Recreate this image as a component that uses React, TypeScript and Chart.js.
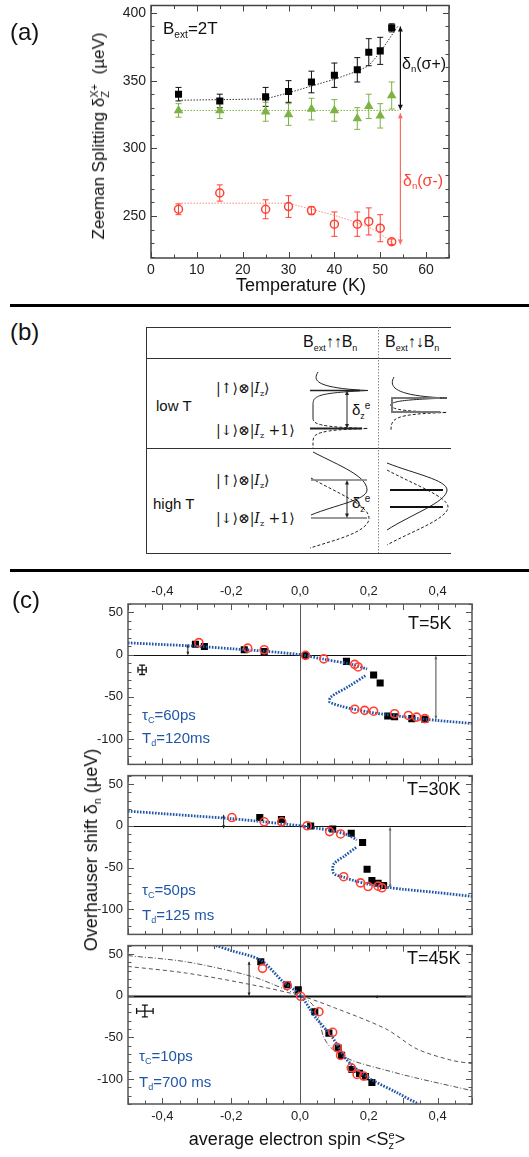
import React, { useEffect, useRef } from 'react';
import { Chart, registerables } from 'chart.js';
Chart.register(...registerables);

const FONT = '"Liberation Sans", Arial, Helvetica, sans-serif';

// ---------- Panel (a): Zeeman splitting vs temperature ----------
const temperatureK = [6, 15, 25, 30, 35, 40, 45, 47.5, 50, 52.5];
const splitSigmaPlus = [340, 335, 338, 342, 349, 354, 358, 371, 372, 389];
const errSigmaPlus = [5, 5, 7, 8, 8, 9, 9, 10, 10, 3];
const splitZero = [328, 328, 327, 325, 329, 328, 322, 331, 324, 339];
const errZero = [5, 6, 7, 8, 8, 8, 8, 9, 9, 10];
const splitSigmaMinus = [255, 267, 255, 257, 254, 244, 244, 246, 241, 231];
const errSigmaMinus = [4, 6, 7, 8, 3, 9, 9, 10, 10, 2];
const fitPlusT = [6, 25, 30, 35, 40, 45, 47.5, 50, 54];
const fitPlusY = [335.5, 336.5, 341, 346, 351, 357, 361, 371, 391];
const fitZeroT = [6, 54];
const fitZeroY = [328, 328];
const fitMinusT = [6, 30, 35, 40, 45, 48, 50, 53];
const fitMinusY = [259.5, 259.5, 255, 250.5, 245, 241, 237, 229];
const tempTicks = [0, 10, 20, 30, 40, 50, 60];
const zeemanTicks = [250, 300, 350, 400];

// ---------- Panel (c): Overhauser shift vs electron spin ----------
const spinTicks = [-0.4, -0.2, 0, 0.2, 0.4];
const shiftTicks = [-100, -50, 0, 50];

// T = 5K
const sq5x = [-0.304, -0.278, -0.162, -0.104, 0.016, 0.135, 0.214, 0.233, 0.255, 0.275, 0.325, 0.363];
const sq5y = [12.3, 9.6, 5.8, 3.8, -1, -8, -24, -33.5, -72.7, -73.5, -75.8, -76.5];
const ci5x = [-0.294, -0.152, -0.104, 0.016, 0.069, 0.159, 0.169, 0.159, 0.188, 0.214, 0.275, 0.315, 0.339, 0.363];
const ci5y = [14.2, 7.7, 5.8, -0.8, -5, -11.5, -14.6, -64.6, -66, -67, -70, -72, -74, -75.8];
const model5UpperX = [-0.5, -0.4, -0.3, -0.2, -0.1, 0, 0.07, 0.15, 0.195];
const model5UpperY = [14, 12, 10, 7, 4, 0, -5.5, -11.5, -17];
const model5LowerX = [0.19, 0.14, 0.09, 0.086, 0.12, 0.15, 0.2, 0.25, 0.3, 0.35, 0.4, 0.5];
const model5LowerY = [-25, -38, -50, -56, -61, -64, -68, -71, -73.5, -76, -78, -81.5];

// T = 30K
const sq30x = [-0.117, -0.054, 0.031, 0.095, 0.149, 0.182, 0.195, 0.209, 0.227, 0.243];
const sq30y = [9.8, 7.4, -0.4, -3.9, -9, -20, -52, -65.6, -68.8, -71.5];
const ci30x = [-0.198, -0.104, -0.053, 0.021, 0.086, 0.118, 0.127, 0.176, 0.198, 0.227, 0.238];
const ci30y = [9.8, 4.7, 4.7, 0, -7, -9.8, -61, -68.4, -72.7, -72.3, -74.2];
const model30UpperX = [-0.5, -0.4, -0.3, -0.2, -0.1, 0, 0.05, 0.1, 0.14, 0.165];
const model30UpperY = [17.5, 14.5, 11.5, 8.5, 4.5, 0, -3, -6.5, -11, -17];
const model30LowerX = [0.163, 0.13, 0.098, 0.098, 0.13, 0.16, 0.2, 0.26, 0.3, 0.4, 0.5];
const model30LowerY = [-26, -36, -46, -57, -62, -66, -70, -74, -76, -80, -84.5];

// T = 45K
const sq45x = [-0.114, -0.037, -0.005, 0.043, 0.084, 0.111, 0.121, 0.151, 0.173, 0.19, 0.209];
const sq45y = [40.6, 13, 7, -19.3, -45, -63, -71.7, -88.6, -93.3, -97.2, -104.3];
const ci45x = [-0.109, -0.037, 0.002, 0.055, 0.095, 0.108, 0.118, 0.149, 0.166, 0.185];
const ci45y = [32.7, 12.2, -0.8, -19.3, -44, -62.2, -71.7, -86.6, -94.5, -96.5];
const model45X = [-0.244, -0.2, -0.114, -0.05, 0, 0.045, 0.094, 0.132, 0.17, 0.209, 0.28, 0.344];
const model45Y = [60, 54, 42.5, 17, 1, -26, -50, -75, -90, -101, -116, -130];
const dashed45X = [-0.5, -0.33, -0.14, 0, 0.1, 0.25, 0.34, 0.44, 0.5];
const dashed45Y = [35, 27, 13, 0, -14.5, -40, -64, -77.5, -81.5];
const dashDot45X = [-0.5, -0.33, -0.14, -0.04, 0, 0.036, 0.055, 0.069, 0.094, 0.15, 0.25, 0.34, 0.5];
const dashDot45Y = [48, 40.5, 23, 7, 0, -10.5, -28, -50, -64, -77.5, -89.5, -99, -114];

const BLUE = '#1f56a8';
const RED = '#ff4133';
const GREEN = '#7cb342';

type Arrow = { x: number; y1: number; y2: number; color: string; width?: number; head?: number };
type ErrSet = { xs: number[]; ys: number[]; err: number[]; color: string };
type Cross = { x: number; y: number; dx: number; dy: number };
type DecorCfg = {
  frameColor: string;
  xMinor: number; xMajor: number; yMinor: number; yMajor: number;
  zeroX?: { color: string; width: number };
  zeroY?: { color: string; width: number };
  arrows?: Arrow[];
  errors?: ErrSet[];
  crosses?: Cross[];
};

function makeDecor(cfg: DecorCfg) {
  return {
    id: 'decor',
    beforeDatasetsDraw(chart: any) {
      const { ctx, chartArea: ca } = chart;
      const xs = chart.scales.x;
      const ys = chart.scales.y;
      ctx.save();
      ctx.beginPath();
      ctx.rect(ca.left, ca.top, ca.right - ca.left, ca.bottom - ca.top);
      ctx.clip();
      if (cfg.zeroX) {
        const px = Math.round(xs.getPixelForValue(0)) + 0.5;
        ctx.strokeStyle = cfg.zeroX.color;
        ctx.lineWidth = cfg.zeroX.width;
        ctx.beginPath();
        ctx.moveTo(px, ca.top);
        ctx.lineTo(px, ca.bottom);
        ctx.stroke();
      }
      if (cfg.zeroY) {
        const py = Math.round(ys.getPixelForValue(0)) + 0.5;
        ctx.strokeStyle = cfg.zeroY.color;
        ctx.lineWidth = cfg.zeroY.width;
        ctx.beginPath();
        ctx.moveTo(ca.left, py);
        ctx.lineTo(ca.right, py);
        ctx.stroke();
      }
      (cfg.errors || []).forEach((e) => {
        ctx.strokeStyle = e.color;
        ctx.lineWidth = 1;
        e.xs.forEach((xv, i) => {
          const px = xs.getPixelForValue(xv);
          const pt = ys.getPixelForValue(e.ys[i] + e.err[i]);
          const pb = ys.getPixelForValue(e.ys[i] - e.err[i]);
          ctx.beginPath();
          ctx.moveTo(px, pt);
          ctx.lineTo(px, pb);
          ctx.moveTo(px - 3, pt);
          ctx.lineTo(px + 3, pt);
          ctx.moveTo(px - 3, pb);
          ctx.lineTo(px + 3, pb);
          ctx.stroke();
        });
      });
      (cfg.crosses || []).forEach((c) => {
        const px = xs.getPixelForValue(c.x);
        const py = ys.getPixelForValue(c.y);
        const l = xs.getPixelForValue(c.x - c.dx);
        const r = xs.getPixelForValue(c.x + c.dx);
        const t = ys.getPixelForValue(c.y + c.dy);
        const b = ys.getPixelForValue(c.y - c.dy);
        ctx.strokeStyle = '#111';
        ctx.lineWidth = 1.3;
        ctx.beginPath();
        ctx.moveTo(l, py); ctx.lineTo(r, py);
        ctx.moveTo(px, t); ctx.lineTo(px, b);
        ctx.moveTo(l, py - 3); ctx.lineTo(l, py + 3);
        ctx.moveTo(r, py - 3); ctx.lineTo(r, py + 3);
        ctx.moveTo(px - 3, t); ctx.lineTo(px + 3, t);
        ctx.moveTo(px - 3, b); ctx.lineTo(px + 3, b);
        ctx.stroke();
      });
      (cfg.arrows || []).forEach((a) => {
        const px = xs.getPixelForValue(a.x);
        const p1 = ys.getPixelForValue(a.y1);
        const p2 = ys.getPixelForValue(a.y2);
        const h = a.head ?? 4;
        const dir = p2 > p1 ? 1 : -1;
        ctx.strokeStyle = a.color;
        ctx.fillStyle = a.color;
        ctx.lineWidth = a.width ?? 1;
        ctx.beginPath();
        ctx.moveTo(px, p1);
        ctx.lineTo(px, p2);
        ctx.stroke();
        ctx.beginPath();
        ctx.moveTo(px, p2);
        ctx.lineTo(px - h * 0.5, p2 - dir * h);
        ctx.lineTo(px + h * 0.5, p2 - dir * h);
        ctx.closePath();
        ctx.fill();
        ctx.beginPath();
        ctx.moveTo(px, p1);
        ctx.lineTo(px - h * 0.5, p1 + dir * h);
        ctx.lineTo(px + h * 0.5, p1 + dir * h);
        ctx.closePath();
        ctx.fill();
      });
      ctx.restore();
    },
    afterDraw(chart: any) {
      const { ctx, chartArea: ca } = chart;
      const xs = chart.scales.x;
      const ys = chart.scales.y;
      ctx.save();
      ctx.strokeStyle = cfg.frameColor;
      ctx.lineWidth = 1;
      const eps = 1e-6;
      const isMaj = (v: number, m: number) => Math.abs(v / m - Math.round(v / m)) < eps;
      ctx.beginPath();
      for (let i = Math.ceil(xs.min / cfg.xMinor - eps); i * cfg.xMinor <= xs.max + eps; i++) {
        const v = i * cfg.xMinor;
        const px = Math.round(xs.getPixelForValue(v)) + 0.5;
        const len = isMaj(v, cfg.xMajor) ? 6 : 3.5;
        ctx.moveTo(px, ca.bottom); ctx.lineTo(px, ca.bottom - len);
        ctx.moveTo(px, ca.top); ctx.lineTo(px, ca.top + len);
      }
      for (let i = Math.ceil(ys.min / cfg.yMinor - eps); i * cfg.yMinor <= ys.max + eps; i++) {
        const v = i * cfg.yMinor;
        const py = Math.round(ys.getPixelForValue(v)) + 0.5;
        const len = isMaj(v, cfg.yMajor) ? 6 : 3.5;
        ctx.moveTo(ca.left, py); ctx.lineTo(ca.left + len, py);
        ctx.moveTo(ca.right, py); ctx.lineTo(ca.right - len, py);
      }
      ctx.stroke();
      ctx.lineWidth = 1.5;
      ctx.strokeRect(ca.left, ca.top, ca.right - ca.left, ca.bottom - ca.top);
      ctx.restore();
    },
  };
}

const pts = (xs: number[], ys: number[]) => xs.map((x, i) => ({ x, y: ys[i] }));

const zeroPad = (s: any) => {
  s.paddingTop = 0;
  s.paddingBottom = 0;
  s.paddingLeft = 0;
  s.paddingRight = 0;
};

const noGrid = { display: false, drawTicks: false, tickLength: 0 };

function makeZeeman(canvas: HTMLCanvasElement) {
  const lineDs = (xs: number[], ys: number[], color: string) => ({
    data: pts(xs, ys), showLine: true, pointRadius: 0, borderColor: color, borderWidth: 1, borderDash: [1.5, 1.5],
  });
  return new Chart(canvas, {
    type: 'scatter',
    data: {
      datasets: [
        { data: pts(temperatureK, splitSigmaPlus), pointStyle: 'rect', pointRadius: 5, backgroundColor: '#000', borderColor: '#000', borderWidth: 0 },
        { data: pts(temperatureK, splitZero), pointStyle: 'triangle', pointRadius: 5.5, backgroundColor: GREEN, borderColor: GREEN, borderWidth: 0 },
        { data: pts(temperatureK, splitSigmaMinus), pointStyle: 'circle', pointRadius: 4, backgroundColor: 'rgba(255,255,255,0)', borderColor: RED, borderWidth: 1.5 },
        lineDs(fitPlusT, fitPlusY, '#333'),
        lineDs(fitZeroT, fitZeroY, GREEN),
        lineDs(fitMinusT, fitMinusY, '#ff8a80'),
      ] as any,
    },
    options: {
      animation: false,
      responsive: false,
      maintainAspectRatio: false,
      layout: { padding: { left: 0, right: 80, top: 5, bottom: 0 } },
      plugins: { legend: { display: false }, tooltip: { enabled: false } },
      scales: {
        x: {
          type: 'linear', min: 0, max: 65,
          grid: noGrid, border: { display: false },
          ticks: { font: { family: FONT, size: 14 }, color: '#222', padding: 4, autoSkip: false, maxRotation: 0, callback: (v: any) => String(v) },
          afterBuildTicks: (s: any) => { s.ticks = tempTicks.map((v) => ({ value: v })); },
          afterFit: (s: any) => { s.height = 42; zeroPad(s); },
        },
        y: {
          type: 'linear', min: 219, max: 405.5,
          grid: noGrid, border: { display: false },
          ticks: { font: { family: FONT, size: 14 }, color: '#222', padding: 5, autoSkip: false, callback: (v: any) => String(v) },
          afterBuildTicks: (s: any) => { s.ticks = zeemanTicks.map((v) => ({ value: v })); },
          afterFit: (s: any) => { s.width = 151; zeroPad(s); },
        },
      },
    } as any,
    plugins: [
      makeDecor({
        frameColor: '#444', xMinor: 5, xMajor: 10, yMinor: 10, yMajor: 50,
        errors: [
          { xs: temperatureK, ys: splitSigmaPlus, err: errSigmaPlus, color: '#111' },
          { xs: temperatureK, ys: splitZero, err: errZero, color: GREEN },
          { xs: temperatureK, ys: splitSigmaMinus, err: errSigmaMinus, color: RED },
        ],
        arrows: [
          { x: 54.4, y1: 328.5, y2: 390, color: '#111', width: 1.2, head: 5 },
          { x: 54.4, y1: 326, y2: 229, color: '#ff6b5e', width: 1.2, head: 5 },
        ],
      }) as any,
    ],
  });
}

type CurveDef = { xs: number[]; ys: number[]; color: string; width: number; dash: number[] };
type OPanel = {
  sqX: number[]; sqY: number[]; ciX: number[]; ciY: number[];
  model: CurveDef[]; extra: CurveDef[];
  arrows: Arrow[]; crosses: Cross[]; zeroWidth: number;
  xAxis: 'top' | 'bottom' | 'none'; padTop: number; padBottom: number;
};

const fmtSpin = (v: number) => (Math.abs(v) < 1e-9 ? '0,0' : v.toFixed(1).replace('.', ','));

function makeOverhauser(canvas: HTMLCanvasElement, p: OPanel) {
  const curveDs = (c: CurveDef) => ({
    data: pts(c.xs, c.ys), showLine: true, pointRadius: 0, borderColor: c.color, borderWidth: c.width, borderDash: c.dash, tension: 0.3,
  });
  const xHeight = p.xAxis === 'top' ? 24 : p.xAxis === 'bottom' ? 26 : 0;
  return new Chart(canvas, {
    type: 'scatter',
    data: {
      datasets: [
        { data: pts(p.ciX, p.ciY), pointStyle: 'circle', pointRadius: 4, backgroundColor: 'rgba(255,255,255,0)', borderColor: RED, borderWidth: 1.6 },
        ...p.model.map(curveDs),
        { data: pts(p.sqX, p.sqY), pointStyle: 'rect', pointRadius: 5, backgroundColor: '#000', borderColor: '#000', borderWidth: 0 },
        ...p.extra.map(curveDs),
      ] as any,
    },
    options: {
      animation: false,
      responsive: false,
      maintainAspectRatio: false,
      layout: { padding: { left: 0, right: 57, top: p.padTop, bottom: p.padBottom } },
      plugins: { legend: { display: false }, tooltip: { enabled: false } },
      scales: {
        x: {
          type: 'linear', min: -0.5, max: 0.5, position: p.xAxis === 'top' ? 'top' : 'bottom', display: p.xAxis !== 'none',
          grid: noGrid, border: { display: false },
          ticks: { font: { family: FONT, size: 13 }, color: '#222', padding: 5, autoSkip: false, maxRotation: 0, callback: (v: any) => fmtSpin(Number(v)) },
          afterBuildTicks: (s: any) => { s.ticks = spinTicks.map((v) => ({ value: v })); },
          afterFit: (s: any) => { s.height = xHeight; zeroPad(s); },
        },
        y: {
          type: 'linear', min: -130, max: 60,
          grid: noGrid, border: { display: false },
          ticks: { font: { family: FONT, size: 13 }, color: '#222', padding: 5, autoSkip: false, callback: (v: any) => String(v) },
          afterBuildTicks: (s: any) => { s.ticks = shiftTicks.map((v) => ({ value: v })); },
          afterFit: (s: any) => { s.width = 128; zeroPad(s); },
        },
      },
    } as any,
    plugins: [
      makeDecor({
        frameColor: '#555', xMinor: 0.05, xMajor: 0.1, yMinor: 10, yMajor: 50,
        zeroX: { color: '#555', width: 1 },
        zeroY: { color: '#111', width: p.zeroWidth },
        arrows: p.arrows,
        crosses: p.crosses,
      }) as any,
    ],
  });
}

const blueModel = (xs: number[], ys: number[]): CurveDef => ({ xs, ys, color: BLUE, width: 2.8, dash: [1.6, 1.4] });

const panel5: OPanel = {
  sqX: sq5x, sqY: sq5y, ciX: ci5x, ciY: ci5y,
  model: [blueModel(model5UpperX, model5UpperY), blueModel(model5LowerX, model5LowerY)], extra: [],
  arrows: [
    { x: -0.326, y1: 0, y2: 12, color: '#222', head: 3 },
    { x: 0.395, y1: -2, y2: -76, color: '#666', width: 1.2, head: 3 },
  ],
  crosses: [{ x: -0.459, y: -18, dx: 0.012, dy: 5.5 }],
  zeroWidth: 1, xAxis: 'top', padTop: 0, padBottom: 3,
};
const panel30: OPanel = {
  sqX: sq30x, sqY: sq30y, ciX: ci30x, ciY: ci30y,
  model: [blueModel(model30UpperX, model30UpperY), blueModel(model30LowerX, model30LowerY)], extra: [],
  arrows: [
    { x: -0.222, y1: -3, y2: 13, color: '#222', head: 3 },
    { x: 0.262, y1: -2, y2: -74, color: '#666', width: 1.2, head: 3 },
  ],
  crosses: [],
  zeroWidth: 1, xAxis: 'none', padTop: 3, padBottom: 4,
};
const panel45: OPanel = {
  sqX: sq45x, sqY: sq45y, ciX: ci45x, ciY: ci45y,
  model: [blueModel(model45X, model45Y)],
  extra: [
    { xs: dashed45X, ys: dashed45Y, color: '#555', width: 1, dash: [4, 3] },
    { xs: dashDot45X, ys: dashDot45Y, color: '#555', width: 1, dash: [5, 2, 1, 2] },
  ],
  arrows: [
    { x: -0.148, y1: 0, y2: 40.6, color: '#222', head: 3 },
    { x: 0.224, y1: 0, y2: -3, color: '#222', head: 2 },
  ],
  crosses: [{ x: -0.451, y: -18.5, dx: 0.024, dy: 7 }],
  zeroWidth: 2, xAxis: 'bottom', padTop: 2, padBottom: 0,
};

function ChartBox({ top, height, make }: { top: number; height: number; make: (c: HTMLCanvasElement) => Chart }) {
  const ref = useRef<HTMLCanvasElement>(null);
  useEffect(() => {
    const ch = make(ref.current as HTMLCanvasElement);
    return () => ch.destroy();
  }, []);
  return <canvas ref={ref} width={529} height={height} style={{ position: 'absolute', left: 0, top, width: 529, height }} />;
}

function Txt({ x, y, size, color = '#111', children, style }: any) {
  return (
    <div style={{ position: 'absolute', left: x, top: y, fontSize: size, fontFamily: FONT, color, lineHeight: 1, whiteSpace: 'nowrap', ...style }}>
      {children}
    </div>
  );
}

const Sub = ({ children }: any) => (
  <span style={{ fontSize: '0.6em', position: 'relative', top: '0.35em' }}>{children}</span>
);

function SchematicB() {
  const stroke = '#222';
  return (
    <svg width={529} height={270} viewBox="0 300 529 270" style={{ position: 'absolute', left: 0, top: 300 }}>
      <g stroke="#333" strokeWidth={1} fill="none">
        <line x1={146} y1={327.5} x2={451} y2={327.5} />
        <line x1={146.5} y1={327} x2={146.5} y2={553} />
        <line x1={146} y1={553.5} x2={451} y2={553.5} />
        <line x1={146} y1={358.5} x2={451} y2={358.5} />
        <line x1={146} y1={448.5} x2={451} y2={448.5} />
      </g>
      <line x1={378.5} y1={327} x2={378.5} y2={553} stroke="#888" strokeWidth={1} strokeDasharray="1.5 1.5" />
      <g fontFamily={FONT} fill="#111">
        <text x={303} y={347} fontSize={16}>B<tspan fontSize={9} dy={4}>ext</tspan><tspan dy={-4}>↑↑B</tspan><tspan fontSize={9} dy={4}>n</tspan></text>
        <text x={385} y={347} fontSize={16}>B<tspan fontSize={9} dy={4}>ext</tspan><tspan dy={-4}>↑↓B</tspan><tspan fontSize={9} dy={4}>n</tspan></text>
        <text x={156} y={411} fontSize={15}>low T</text>
        <text x={153} y={509} fontSize={15}>high T</text>
      </g>
      <g fontFamily='"DejaVu Serif", serif' fill="#111" fontSize={14}>
        <text x={216} y={393}>|↑⟩⊗|<tspan fontStyle="italic">I</tspan><tspan fontSize={8} dy={3}>z</tspan><tspan dy={-3}>⟩</tspan></text>
        <text x={216} y={435}>|↓⟩⊗|<tspan fontStyle="italic">I</tspan><tspan fontSize={8} dy={3}>z</tspan><tspan dy={-3}> +1⟩</tspan></text>
        <text x={216} y={485}>|↑⟩⊗|<tspan fontStyle="italic">I</tspan><tspan fontSize={8} dy={3}>z</tspan><tspan dy={-3}>⟩</tspan></text>
        <text x={216} y={523}>|↓⟩⊗|<tspan fontStyle="italic">I</tspan><tspan fontSize={8} dy={3}>z</tspan><tspan dy={-3}> +1⟩</tspan></text>
      </g>
      {/* low T, parallel */}
      <g fill="none" stroke={stroke} strokeWidth={1}>
        <path d="M318,372 C313,380 314,388 368,390.5 C316,393 313,396 313,405 L313,418" />
        <path d="M313,418 C313,424 318,427 368,428.5 C318,430 313,433 313,442 L313,448" strokeDasharray="3 2" />
        <line x1={310} y1={390.5} x2={360} y2={390.5} strokeWidth={1.5} />
        <line x1={310} y1={428.5} x2={362} y2={428.5} strokeWidth={2} />
        <line x1={347} y1={393} x2={347} y2={426} />
      </g>
      <polygon points="347,390.5 345,395 349,395" fill={stroke} />
      <polygon points="347,428.5 345,424 349,424" fill={stroke} />
      <text x={352} y={415} fontFamily={FONT} fontSize={15} fill="#111">δ<tspan fontSize={9} dy={4}>z</tspan><tspan fontSize={10} dy={-10}>e</tspan></text>
      {/* low T, antiparallel */}
      <g fill="none" stroke={stroke} strokeWidth={1}>
        <path d="M394,377 C389,386 392,396 447,398 C395,400 391,402 391,406" />
        <path d="M391,404 C391,409 395,411 447,412.5 C395,414 391,418 391,430" strokeDasharray="3 2" />
      </g>
      <g stroke="#777" strokeWidth={2}>
        <line x1={391} y1={398} x2={440} y2={398} />
        <line x1={391} y1={412} x2={440} y2={412} />
        <line x1={392} y1={398} x2={392} y2={412} />
      </g>
      {/* high T, parallel */}
      <g fill="none" stroke={stroke} strokeWidth={1}>
        <path d="M313,452 C340,466 367,476 367,490 C367,500 335,505 311,515" />
        <path d="M311,478 C335,492 369,505 369,518 C369,532 335,540 310,548" strokeDasharray="3 2" />
      </g>
      <g stroke="#777" strokeWidth={1.5}>
        <line x1={311} y1={480} x2={367} y2={480} />
        <line x1={311} y1={518} x2={367} y2={518} />
      </g>
      <line x1={347} y1={482} x2={347} y2={516} stroke={stroke} strokeWidth={1} />
      <polygon points="347,480 345,484.5 349,484.5" fill={stroke} />
      <polygon points="347,518 345,513.5 349,513.5" fill={stroke} />
      <text x={352} y={508} fontFamily={FONT} fontSize={15} fill="#111">δ<tspan fontSize={9} dy={4}>z</tspan><tspan fontSize={10} dy={-10}>e</tspan></text>
      {/* high T, antiparallel */}
      <g fill="none" stroke={stroke} strokeWidth={1}>
        <path d="M387,463 C415,474 447,480 447,490 C447,502 410,515 387,530" />
        <path d="M387,470 C415,485 448,497 448,507 C448,519 410,532 387,545" strokeDasharray="3 2" />
      </g>
      <g stroke="#111" strokeWidth={2}>
        <line x1={390} y1={490} x2={443} y2={490} />
        <line x1={390} y1={507} x2={443} y2={507} />
      </g>
    </svg>
  );
}

export default function App() {
  return (
    <div style={{ position: 'absolute', left: 0, top: 0, width: 529, height: 1157, background: '#fff', overflow: 'hidden' }}>
      {/* Panel (a) */}
      <ChartBox top={0} height={300} make={makeZeeman} />
      <Txt x={10} y={20} size={24}>(a)</Txt>
      <Txt x={163} y={20} size={17}>B<Sub>ext</Sub>=2T</Txt>
      <Txt x={402} y={56} size={16}>δ<Sub>n</Sub>(σ+)</Txt>
      <Txt x={403} y={173} size={16} color={RED}>δ<Sub>n</Sub>(σ-)</Txt>
      <Txt x={100} y={136} size={17} style={{ transform: 'translate(-50%,-50%) rotate(-90deg)' }}>
        Zeeman Splitting δ
        <span style={{ display: 'inline-flex', flexDirection: 'column', fontSize: 11, lineHeight: '11px', verticalAlign: 'middle' }}>
          <span>X+</span><span>Z</span>
        </span>
        &nbsp;&nbsp;(µeV)
      </Txt>
      <Txt x={301} y={285} size={18} style={{ transform: 'translate(-50%,-50%)' }}>Temperature (K)</Txt>
      <div style={{ position: 'absolute', left: 10, top: 304, width: 519, height: 3, background: '#000' }} />

      {/* Panel (b) */}
      <Txt x={10} y={320} size={24}>(b)</Txt>
      <SchematicB />
      <div style={{ position: 'absolute', left: 10, top: 569, width: 519, height: 3, background: '#000' }} />

      {/* Panel (c) */}
      <ChartBox top={580} height={190} make={(c) => makeOverhauser(c, panel5)} />
      <ChartBox top={770} height={170} make={(c) => makeOverhauser(c, panel30)} />
      <ChartBox top={940} height={190} make={(c) => makeOverhauser(c, panel45)} />
      <Txt x={12} y={588} size={24}>(c)</Txt>
      <Txt x={408} y={614} size={18}>T=5K</Txt>
      <Txt x={407} y={780} size={18}>T=30K</Txt>
      <Txt x={407} y={949} size={18}>T=45K</Txt>
      <Txt x={142} y={707} size={15} color={BLUE}>τ<Sub>C</Sub>=60ps</Txt>
      <Txt x={142} y={730} size={15} color={BLUE}>T<Sub>d</Sub>=120ms</Txt>
      <Txt x={142} y={882} size={15} color={BLUE}>τ<Sub>C</Sub>=50ps</Txt>
      <Txt x={142} y={907} size={15} color={BLUE}>T<Sub>d</Sub>=125 ms</Txt>
      <Txt x={139} y={1048} size={15} color={BLUE}>τ<Sub>C</Sub>=10ps</Txt>
      <Txt x={139} y={1074} size={15} color={BLUE}>T<Sub>d</Sub>=700 ms</Txt>
      <Txt x={91} y={850} size={18} style={{ transform: 'translate(-50%,-50%) rotate(-90deg)' }}>
        Overhauser shift δ<Sub>n</Sub> (µeV)
      </Txt>
      <Txt x={297} y={1140} size={18} style={{ transform: 'translate(-50%,-50%)' }}>
        average electron spin &lt;S
        <span style={{ display: 'inline-flex', flexDirection: 'column', fontSize: 11, lineHeight: '10px', verticalAlign: 'middle' }}>
          <span>e</span><span>z</span>
        </span>
        &gt;
      </Txt>
    </div>
  );
}
